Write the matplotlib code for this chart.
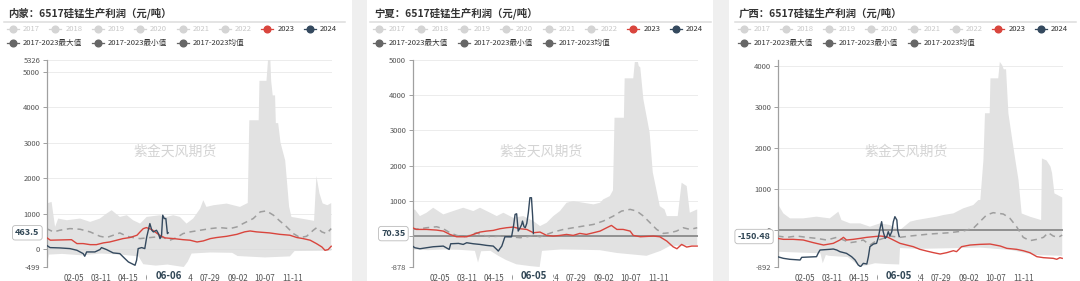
import numpy as np
import matplotlib
matplotlib.use('Agg')
import matplotlib.pyplot as plt
from matplotlib.patches import Rectangle
from matplotlib.lines import Line2D
import matplotlib.transforms as mtrans

plt.rcParams['font.family'] = ['Noto Sans CJK SC', 'DejaVu Sans']

W, H = 1080, 281

# x 轴: 一年中的第几天 (0 = 01-01)
TICK_DAYS = [35, 70, 105, 140, 175, 210, 245, 280, 315]
TICK_LABELS = ['02-05', '03-11', '04-15', '05-20', '06-24', '07-29', '09-02', '10-07', '11-11']
LEGEND_YEARS = ['2017', '2018', '2019', '2020', '2021', '2022', '2023', '2024']
LEGEND_STATS = ['2017-2023最大值', '2017-2023最小值', '2017-2023均值']

# ---------------- 内蒙 ----------------
NM_2023_X = [0, 5, 32, 39, 47, 56, 64, 73, 81, 90, 98, 107, 116, 120, 124, 128, 135, 139, 145, 152,
             163, 175, 184, 193, 201, 210, 218, 231, 244, 254, 261, 269, 286, 299, 312, 321, 329, 338,
             346, 353, 357, 361, 365]
NM_2023 = [330, 255, 270, 160, 160, 130, 130, 180, 205, 255, 300, 330, 395, 490, 580, 610, 555, 490,
           395, 320, 300, 270, 255, 205, 235, 300, 330, 365, 420, 490, 515, 490, 460, 420, 395, 330,
           300, 255, 160, 65, -30, -10, 85]
NM_2024_X = [0, 4.5, 17, 30, 39, 47, 49, 51.5, 62, 68.5, 70.5, 77, 85.5, 94, 100.5, 105, 111, 113.5,
             115.5, 117.5, 122, 126, 128.5, 130.5, 132.5, 135, 137, 141, 143.5, 145.5, 147.5, 149, 151,
             153, 155, 156]
NM_2024 = [113, 47, 38, 19, -28, -122, -197, -75, -75, -9, 47, -9, -103, -122, -263, -357, -423, -450,
           -310, 19, 47, 19, 347, 535, 723, 535, 488, 535, 441, 300, 394, 958, 864, 864, 441, 463.5]
NM_MEAN_X = [0, 9, 17, 30, 43, 56, 68.5, 77, 85.5, 94, 103, 111, 120, 132.5, 141, 150, 158, 167, 175,
             184, 197, 210, 222, 235, 244, 252, 265, 274, 282, 291, 299, 308, 316.5, 325, 333.5, 342,
             346.5, 353, 359, 365]
NM_MEAN = [582, 488, 535, 582, 563, 488, 366, 329, 394, 460, 366, 329, 300, 329, 347, 329, 254, 329,
           441, 488, 535, 582, 610, 582, 629, 723, 864, 1052, 1080, 958, 798, 629, 441, 329, 366, 535,
           610, 488, 441, 582]
NM_MAX_X = [0, 6.5, 11, 15, 26, 43, 56, 68.5, 77, 83.5, 94, 103, 111, 120, 128.5, 145.5, 154, 162.5,
            171, 179.5, 188, 197, 201, 205, 214, 231, 248, 256.5, 258, 260, 272, 273, 282, 284, 287,
            288, 290, 293, 294, 297, 300, 306, 311, 314, 330, 343, 346, 350, 354, 360, 365]
NM_MAX = [1286, 1333, 629, 864, 817, 864, 770, 864, 1005, 1099, 911, 958, 817, 723, 911, 958, 911, 958,
          911, 723, 864, 1146, 1380, 1192, 1239, 1286, 1192, 1286, 1300, 3630, 3630, 4740, 4740, 5326,
          5326, 4740, 4330, 4330, 3550, 3550, 3000, 2500, 1200, 910, 850, 800, 2060, 1570, 1290, 1240,
          1300]
NM_MIN_X = [0, 3, 20, 45, 70, 95, 118, 124, 140, 155, 170, 176, 181, 186, 210, 238, 245, 280, 312, 318, 365]
NM_MIN = [-499, -150, -130, -170, -120, -150, -200, -420, -460, -430, -480, -499, -350, -120, -90, -100,
          -190, -230, -200, -50, -40]
NM_YTICKS = [-499, 0, 1000, 2000, 3000, 4000, 5000, 5326]

# ---------------- 宁夏 ----------------
NX_2023_X = [0, 5, 18, 31, 39.5, 48, 56.5, 69.5, 78, 86.5, 95, 103.5, 112, 120.5, 129, 138, 146.5, 155,
             163.5, 172, 180.5, 189, 197.5, 206, 214.5, 223, 232, 240.5, 249, 255, 262, 270, 279, 283,
             292, 309, 317, 326, 334, 339, 345, 351.5, 358, 365]
NX_2023 = [237, 189, 189, 170, 142, 47, -19, -19, 47, 114, 142, 161, 208, 237, 256, 208, 189, 95, 114,
           19, 0, 19, 47, 19, 76, 47, 95, 142, 237, 303, 189, 189, 142, 19, -19, 0, -19, -142, -303,
           -360, -237, -312, -284, -284]
NX_2024_X = [0, 3, 9.5, 18, 26.5, 39.5, 47, 49, 59, 65, 69.5, 78, 86.5, 95, 103.5, 108, 110, 112,
             114.5, 118.5, 127, 129.5, 131.5, 133.5, 135.5, 138, 140, 141, 143, 144.5, 146.5, 148.5,
             150.5, 152.5, 154, 155]
NX_2024 = [-284, -331, -360, -331, -303, -284, -379, -218, -208, -237, -189, -218, -237, -265, -284,
           -379, -426, -360, -284, -19, -19, 284, 615, 634, 142, 237, 331, 426, 265, 237, 360, 663,
           1089, 1089, 568, 70.35]
NX_MEAN_X = [0, 9.5, 18, 31, 39.5, 48, 56.5, 65, 73.5, 82, 91, 99.5, 112, 125, 138, 146.5, 155, 163.5,
             172, 180.5, 193.5, 206, 219, 232, 244.5, 257.5, 268, 279, 287.5, 296, 304.5, 313, 321.5,
             330, 338.5, 347, 356, 365]
NX_MEAN = [189, 208, 237, 265, 208, 95, 19, -19, 19, 95, 19, -19, 0, -19, -47, -19, 19, -19, 47, 114,
           189, 237, 284, 331, 426, 568, 710, 758, 710, 568, 379, 189, 76, 95, 142, 237, 189, 237]
NX_MAX_X = [0, 3, 9.5, 18, 26.5, 39.5, 52, 65, 78, 86.5, 99.5, 108, 116.5, 129, 142, 155, 163.5, 172,
            180.5, 189, 197.5, 206, 219, 232, 240.5, 244.5, 253, 257, 259, 271, 272, 283, 285, 289,
            290, 292, 296, 304, 308, 317, 323, 326, 340, 345, 351.5, 355.5, 365]
NX_MAX = [710, 758, 568, 663, 805, 615, 710, 805, 710, 805, 663, 568, 663, 521, 568, 426, 284, 379, 568,
          710, 947, 994, 947, 900, 947, 1042, 1136, 1300, 3360, 3360, 4480, 4480, 4943, 4943, 4830,
          4790, 3880, 2940, 1810, 850, 760, 568, 568, 1515, 1420, 663, 758]
NX_MIN_X = [0, 20, 40, 60, 80, 84, 88, 100, 110, 120, 133, 150, 163, 166, 190, 220, 240, 262, 300, 318,
            330, 365]
NX_MIN = [-380, -400, -380, -390, -420, -750, -430, -420, -560, -680, -800, -850, -878, -420, -380,
          -390, -400, -480, -560, -420, -280, -260]
NX_YTICKS = [-878, 0, 1000, 2000, 3000, 4000, 5000]

# ---------------- 广西 ----------------
GX_2023_X = [0, 7.5, 20, 33, 46, 59, 71.5, 80, 84.5, 88.5, 97, 106, 114.5, 123, 131.5, 140, 148.5, 157,
             165.5, 174, 182.5, 191, 200, 208.5, 217, 225.5, 229.5, 236, 247, 259.5, 272.5, 285.5, 294,
             306.5, 315, 323.5, 332.5, 341, 353.5, 358, 362, 365]
GX_2023 = [-195, -219, -219, -235, -300, -357, -316, -235, -170, -235, -219, -195, -170, -154, -138,
           -154, -235, -316, -357, -397, -462, -503, -543, -576, -543, -495, -519, -397, -357, -341,
           -333, -381, -438, -462, -495, -543, -641, -665, -681, -705, -665, -681]
GX_2024_X = [0, 7.5, 16, 29, 31, 50, 52.5, 54.5, 67, 71.5, 76, 80, 88.5, 95, 99.5, 103.5, 106.5, 110,
             114.5, 116.5, 118.5, 123, 127, 129.5, 131.5, 133.5, 135.5, 138, 140, 142, 144, 146.5,
             148.5, 150.5, 153, 154, 156]
GX_2024 = [-641, -681, -705, -722, -657, -641, -543, -479, -462, -454, -479, -519, -560, -641, -722,
           -843, -884, -803, -819, -641, -397, -333, -316, -154, 49, 211, -32, -195, -154, -32, -138,
           -32, 211, 333, 251, 8, -150.48]
GX_MEAN_X = [0, 12, 24.5, 37.5, 50, 63, 76, 84.5, 93, 101.5, 110, 118.5, 127, 135.5, 144, 157, 170,
             182.5, 195.5, 208.5, 221, 238, 251, 259.5, 268, 276.5, 289.5, 298, 306.5, 315, 323.5,
             332.5, 341, 347, 353.5, 360, 365]
GX_MEAN = [-138, -170, -138, -170, -195, -235, -170, -235, -300, -276, -235, -357, -251, -195, -138,
           -170, -138, -114, -89, -73, -57, -16, 49, 211, 373, 430, 397, 292, 89, -170, -251, -219,
           -170, -57, -138, -170, -114]
GX_MAX_X = [0, 7.5, 16, 33, 50, 67, 78, 82, 93, 106, 118.5, 131.5, 144, 157, 170, 178.5, 191, 204,
            212.5, 225.5, 238, 251, 257.5, 260, 264, 266, 272, 273, 283, 285, 288, 290, 293, 296, 301,
            305, 309, 313, 324, 338, 339, 345, 350, 352, 355, 365]
GX_MAX = [657, 413, 292, 292, 333, 292, 454, 251, 170, 170, 89, 170, 130, 8, 211, 251, 292, 333, 373,
          413, 535, 616, 738, 740, 1710, 2850, 2850, 3700, 3700, 4100, 4020, 3920, 3920, 2850, 2200,
          1700, 1220, 410, 330, 250, 1750, 1700, 1550, 1390, 900, 800]
GX_MIN_X = [0, 55, 58, 62, 66, 90, 105, 115, 125, 140, 156, 157, 180, 235, 260, 300, 330, 365]
GX_MIN = [-520, -560, -800, -600, -620, -650, -870, -850, -800, -820, -830, -430, -450, -430, -420,
          -480, -600, -620]
GX_YTICKS = [-892, 0, 1000, 2000, 3000, 4000]

PANELS = [
    dict(ox=0, card=(0, 352), title='内蒙：6517硅锰生产利润（元/吨）',
         s23=(NM_2023_X, NM_2023), s24=(NM_2024_X, NM_2024), mean=(NM_MEAN_X, NM_MEAN),
         hi=(NM_MAX_X, NM_MAX), lo=(NM_MIN_X, NM_MIN), yticks=NM_YTICKS, ylim=(-499, 5326),
         ptr_val='463.5', ptr_y=463.5, ptr_day=157, ptr_lab='06-06', zero_dark=False),
    dict(ox=366, card=(367, 713), title='宁夏：6517硅锰生产利润（元/吨）',
         s23=(NX_2023_X, NX_2023), s24=(NX_2024_X, NX_2024), mean=(NX_MEAN_X, NX_MEAN),
         hi=(NX_MAX_X, NX_MAX), lo=(NX_MIN_X, NX_MIN), yticks=NX_YTICKS, ylim=(-878, 5000),
         ptr_val='70.35', ptr_y=70.35, ptr_day=156, ptr_lab='06-05', zero_dark=True),
    dict(ox=731, card=(729, 1080), title='广西：6517硅锰生产利润（元/吨）',
         s23=(GX_2023_X, GX_2023), s24=(GX_2024_X, GX_2024), mean=(GX_MEAN_X, GX_MEAN),
         hi=(GX_MAX_X, GX_MAX), lo=(GX_MIN_X, GX_MIN), yticks=GX_YTICKS, ylim=(-892, 4146),
         ptr_val='-150.48', ptr_y=-150.48, ptr_day=156, ptr_lab='06-05', zero_dark=True),
]

RED = '#d9453d'
NAVY = '#34495e'
BAND = '#e2e2e2'
MEAN_C = '#9e9e9e'


def fx(x):
    return x / W


def fy(y):
    return 1 - y / H


fig = plt.figure(figsize=(W / 100, H / 100), dpi=100)
fig.patch.set_facecolor('#efefef')

for p in PANELS:
    ox = p['ox']
    c0, c1 = p['card']
    fig.add_artist(Rectangle((fx(c0), 0), fx(c1 - c0), 1, transform=fig.transFigure,
                             facecolor='white', edgecolor='none', zorder=0))

    # 标题和分隔线
    fig.text(fx(ox + 8), fy(13), p['title'], fontsize=7.5, fontweight='bold', color='#333333',
             ha='left', va='center')
    fig.add_artist(Line2D([fx(ox + 4), fx(ox + 345)], [fy(22.3), fy(22.3)],
                          transform=fig.transFigure, color='#dddddd', lw=1.1))

    # 图例
    for i, yr in enumerate(LEGEND_YEARS):
        mx = ox + 13 + 42.4 * i
        if yr == '2023':
            mc, tc = RED, '#333333'
        elif yr == '2024':
            mc, tc = NAVY, '#333333'
        else:
            mc, tc = '#d4d4d4', '#c8c8c8'
        fig.add_artist(Line2D([fx(mx - 6), fx(mx + 6)], [fy(29.3)] * 2, transform=fig.transFigure,
                              color=mc, lw=0.9))
        fig.add_artist(Line2D([fx(mx)], [fy(29.3)], transform=fig.transFigure, marker='o',
                              markersize=4.8, color=mc, lw=0))
        fig.text(fx(mx + 10), fy(29.3), yr, fontsize=5.5, color=tc, ha='left', va='center')
    for i, lab in enumerate(LEGEND_STATS):
        mx = ox + 12.7 + 85.2 * i
        fig.add_artist(Line2D([fx(mx - 6), fx(mx + 6)], [fy(43.3)] * 2, transform=fig.transFigure,
                              color='#666666', lw=0.9))
        fig.add_artist(Line2D([fx(mx)], [fy(43.3)], transform=fig.transFigure, marker='o',
                              markersize=4.8, color='#666666', lw=0))
        fig.text(fx(mx + 10), fy(43.3), lab, fontsize=5.5, color='#333333', ha='left', va='center')

    # 绘图区
    ax = fig.add_axes([fx(ox + 46.5), (H - 267) / H, 285.5 / W, 207 / H])
    ax.set_facecolor('none')
    ax.set_xlim(0, 366)
    ax.set_ylim(*p['ylim'])
    for s in ['top', 'right', 'bottom']:
        ax.spines[s].set_visible(False)
    ax.spines['left'].set_color('#a0a0a0')
    ax.spines['left'].set_linewidth(0.9)

    ax.set_yticks(p['yticks'])
    ax.set_yticklabels([str(v) for v in p['yticks']])
    ax.tick_params(axis='y', length=3, width=0.7, color='#a0a0a0', labelsize=5.5,
                   labelcolor='#555555', pad=1.5)
    ax.set_xticks(TICK_DAYS)
    ax.set_xticklabels(TICK_LABELS)
    ax.tick_params(axis='x', length=0, labelsize=5.8, labelcolor='#555555', pad=5)
    ax.yaxis.grid(True, color='#ececec', lw=0.7, zorder=0)
    ax.set_axisbelow(True)

    hx, hy = p['hi']
    lx, ly = p['lo']
    ax.fill(np.r_[hx, lx[::-1]], np.r_[hy, ly[::-1]], color=BAND, lw=0, zorder=1)
    ax.axhline(0, color='#7a7a7a' if p['zero_dark'] else '#dddddd',
               lw=1.1 if p['zero_dark'] else 0.7, zorder=2)
    ax.plot(*p['mean'], color=MEAN_C, lw=1.1, ls=(0, (4, 3)), zorder=3)
    ax.plot(*p['s23'], color=RED, lw=1.0, zorder=4)
    ax.plot(*p['s24'], color=NAVY, lw=1.0, zorder=5)

    # 水印
    fig.text(fx(ox + 175), fy(151.7), '紫金天风期货', fontsize=10, color='#d4d4d4',
             ha='center', va='center')

    # 指示器标签
    tr = mtrans.blended_transform_factory(ax.transAxes, ax.transData)
    ax.text(-7 / 285.5, p['ptr_y'], p['ptr_val'], transform=tr, ha='right', va='center',
            fontsize=6.5, fontweight='bold', color='#2f4554', zorder=10, clip_on=False,
            bbox=dict(boxstyle='round,pad=0.3', fc='white', ec='#bbbbbb', lw=0.6))
    px = ox + 46.5 + p['ptr_day'] * 285.5 / 366
    fig.add_artist(Rectangle((fx(px - 21.5), 0), fx(40.5), fy(269.5), transform=fig.transFigure,
                             facecolor='white', edgecolor='none', zorder=5))
    fig.text(fx(px), fy(276), p['ptr_lab'], fontsize=7, fontweight='bold', color='#2f4554',
             ha='center', va='center', zorder=6)

fig.savefig('out.png', dpi=100, facecolor=fig.get_facecolor())
